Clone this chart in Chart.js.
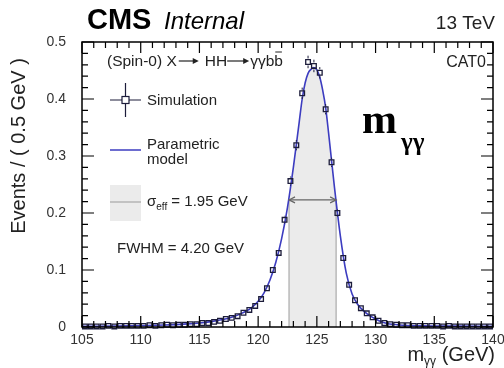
<!DOCTYPE html>
<html>
<head>
<meta charset="utf-8">
<script src="https://cdn.jsdelivr.net/npm/chart.js@4.4.0/dist/chart.umd.min.js"></script>
<style>
  body { margin: 0; background: #fff; }
  #wrap { width: 504px; height: 368px; }
</style>
</head>
<body>
<div id="wrap"><canvas id="massChart" width="504" height="368"></canvas></div>
<script>
// simulation histogram, 0.5 GeV bins
const binCenters = [
  105.25, 105.75, 106.25, 106.75, 107.25, 107.75, 108.25, 108.75, 109.25, 109.75,
  110.25, 110.75, 111.25, 111.75, 112.25, 112.75, 113.25, 113.75, 114.25, 114.75,
  115.25, 115.75, 116.25, 116.75, 117.25, 117.75, 118.25, 118.75, 119.25, 119.75,
  120.25, 120.75, 121.25, 121.75, 122.25, 122.75, 123.25, 123.75, 124.25, 124.75,
  125.25, 125.75, 126.25, 126.75, 127.25, 127.75, 128.25, 128.75, 129.25, 129.75,
  130.25, 130.75, 131.25, 131.75, 132.25, 132.75, 133.25, 133.75, 134.25, 134.75,
  135.25, 135.75, 136.25, 136.75, 137.25, 137.75, 138.25, 138.75, 139.25, 139.75
];
const simEvents = [
  0.001, 0.001, 0.001, 0.001, 0.002, 0.001, 0.002, 0.002, 0.002, 0.002,
  0.002, 0.003, 0.002, 0.003, 0.004, 0.003, 0.004, 0.004, 0.005, 0.005,
  0.007, 0.007, 0.009, 0.011, 0.014, 0.016, 0.019, 0.025, 0.030, 0.037,
  0.049, 0.068, 0.100, 0.130, 0.188, 0.256, 0.319, 0.410, 0.465, 0.458,
  0.446, 0.382, 0.289, 0.200, 0.121, 0.074, 0.047, 0.033, 0.024, 0.017,
  0.011, 0.007, 0.005, 0.004, 0.003, 0.003, 0.002, 0.002, 0.002, 0.002,
  0.002, 0.001, 0.002, 0.001, 0.001, 0.001, 0.001, 0.001, 0.001, 0.001
];
const simErrors = [
  0.001, 0.001, 0.001, 0.001, 0.001, 0.001, 0.001, 0.001, 0.001, 0.001,
  0.001, 0.001, 0.001, 0.001, 0.001, 0.001, 0.001, 0.001, 0.001, 0.001,
  0.001, 0.001, 0.002, 0.002, 0.002, 0.002, 0.002, 0.003, 0.003, 0.003,
  0.004, 0.004, 0.005, 0.006, 0.007, 0.008, 0.009, 0.010, 0.011, 0.011,
  0.010, 0.009, 0.008, 0.007, 0.005, 0.004, 0.004, 0.003, 0.003, 0.002,
  0.002, 0.002, 0.001, 0.001, 0.001, 0.001, 0.001, 0.001, 0.001, 0.001,
  0.001, 0.001, 0.001, 0.001, 0.001, 0.001, 0.001, 0.001, 0.001, 0.001
];

// parametric model
const modelMass = [
  105, 108, 110, 112, 114, 115, 116, 117, 118, 118.5, 119, 119.5, 120, 120.5,
  121, 121.5, 122, 122.5, 123, 123.5, 123.75, 124, 124.25, 124.5, 124.75, 125,
  125.25, 125.5, 125.75, 126, 126.5, 127, 127.5, 128, 128.5, 129, 129.5, 130,
  130.5, 131, 132, 134, 137, 140
];
const modelEvents = [
  0.0012, 0.0018, 0.0025, 0.0035, 0.0055, 0.007, 0.0095, 0.013, 0.019, 0.023, 0.028, 0.035, 0.045, 0.060,
  0.082, 0.113, 0.155, 0.210, 0.280, 0.360, 0.400, 0.428, 0.445, 0.452, 0.455, 0.451,
  0.438, 0.415, 0.385, 0.340, 0.245, 0.160, 0.095, 0.058, 0.039, 0.028, 0.020, 0.014,
  0.009, 0.006, 0.0035, 0.002, 0.0015, 0.0012
];

// sigma_eff window
const sigmaEffLow = 122.63;
const sigmaEffHigh = 126.64;
const sigmaEffLevel = 0.223;

const xMajorTicks = [105, 110, 115, 120, 125, 130, 135, 140];
const yMajorTicks = [0, 0.1, 0.2, 0.3, 0.4, 0.5];

const blue = "#3c3cc0";
const ink = "#1c1c3a";
const sans = "'Liberation Sans', Arial, sans-serif";

const toPoints = (xs, ys) => xs.map((v, i) => ({ x: v, y: ys[i] }));

const bandPoints = [{ x: sigmaEffLow, y: sigmaEffLevel }]
  .concat(toPoints(modelMass, modelEvents).filter(p => p.x > sigmaEffLow && p.x < sigmaEffHigh))
  .concat([{ x: sigmaEffHigh, y: sigmaEffLevel }]);

// long ROOT-style arrow used in the process label
function textArrow(ctx, x0, yMid, len) {
  ctx.beginPath();
  ctx.moveTo(x0, yMid); ctx.lineTo(x0 + len - 4, yMid);
  ctx.stroke();
  ctx.beginPath();
  ctx.moveTo(x0 + len, yMid); ctx.lineTo(x0 + len - 6, yMid - 3); ctx.lineTo(x0 + len - 6, yMid + 3);
  ctx.closePath();
  ctx.fill();
}

const rootStyle = {
  id: "rootStyle",
  afterDatasetsDraw(chart) {
    const { ctx, scales: { x, y } } = chart;
    ctx.save();
    // vertical error bars
    ctx.strokeStyle = ink;
    ctx.lineWidth = 1;
    binCenters.forEach((c, i) => {
      const px = x.getPixelForValue(c);
      const py = y.getPixelForValue(simEvents[i]);
      const up = y.getPixelForValue(simEvents[i] + simErrors[i]);
      const dn = y.getPixelForValue(Math.max(0, simEvents[i] - simErrors[i]));
      ctx.beginPath();
      if (py - up > 3.5) { ctx.moveTo(px, py - 3.5); ctx.lineTo(px, up); }
      if (dn - py > 3.5) { ctx.moveTo(px, py + 3.5); ctx.lineTo(px, dn); }
      ctx.stroke();
    });
    // arrow heads of the sigma_eff arrow
    const ay = y.getPixelForValue(sigmaEffLevel);
    const l = x.getPixelForValue(sigmaEffLow);
    const r = x.getPixelForValue(sigmaEffHigh);
    ctx.strokeStyle = "#666";
    ctx.lineWidth = 1.2;
    ctx.beginPath();
    ctx.moveTo(l + 6, ay - 3); ctx.lineTo(l, ay); ctx.lineTo(l + 6, ay + 3);
    ctx.moveTo(r - 6, ay - 3); ctx.lineTo(r, ay); ctx.lineTo(r - 6, ay + 3);
    ctx.stroke();
    ctx.restore();
  },
  afterDraw(chart) {
    const { ctx, chartArea: a, scales: { x, y } } = chart;
    ctx.save();
    // frame
    ctx.strokeStyle = "#000";
    ctx.lineWidth = 1.5;
    ctx.strokeRect(a.left, a.top, a.right - a.left, a.bottom - a.top);
    // inward ticks, all four sides
    ctx.lineWidth = 1.2;
    ctx.beginPath();
    for (let m = 105; m <= 140; m++) {
      const px = x.getPixelForValue(m);
      const len = m % 5 === 0 ? 11 : 6;
      ctx.moveTo(px, a.bottom); ctx.lineTo(px, a.bottom - len);
      ctx.moveTo(px, a.top); ctx.lineTo(px, a.top + len);
    }
    for (let k = 0; k <= 25; k++) {
      const py = y.getPixelForValue(k * 0.02);
      const len = k % 5 === 0 ? 12 : 6;
      ctx.moveTo(a.left, py); ctx.lineTo(a.left + len, py);
      ctx.moveTo(a.right, py); ctx.lineTo(a.right - len, py);
    }
    ctx.stroke();

    // header
    ctx.fillStyle = "#000";
    ctx.textBaseline = "alphabetic";
    ctx.font = "bold 29px " + sans;
    ctx.fillText("CMS", 87, 29);
    ctx.font = "italic 24px " + sans;
    ctx.fillText("Internal", 164, 29);
    ctx.textAlign = "right";
    ctx.font = "19px " + sans;
    ctx.fillStyle = "#222";
    ctx.fillText("13 TeV", 495, 29);

    // process label and category
    ctx.font = "16px " + sans;
    ctx.fillText("CAT0", 486, 67);
    ctx.textAlign = "left";
    ctx.font = "15.5px " + sans;
    ctx.strokeStyle = "#222";
    ctx.lineWidth = 1.2;
    let cx = 107;
    ctx.fillText("(Spin-0) X", cx, 66);
    cx += ctx.measureText("(Spin-0) X").width + 2;
    textArrow(ctx, cx, 61, 20);
    cx += 26;
    ctx.fillText("HH", cx, 66);
    cx += ctx.measureText("HH").width;
    textArrow(ctx, cx, 61, 22);
    cx += 23;
    ctx.fillText("\u03b3\u03b3bb", cx, 66);
    const pw = ctx.measureText("\u03b3\u03b3bb").width;
    const bw = ctx.measureText("b").width;
    ctx.lineWidth = 1;
    ctx.beginPath();
    ctx.moveTo(cx + pw - bw + 1, 52); ctx.lineTo(cx + pw - 1, 52);
    ctx.stroke();

    // legend
    ctx.strokeStyle = ink;
    ctx.lineWidth = 1.2;
    ctx.beginPath();
    ctx.moveTo(110, 100); ctx.lineTo(122, 100);
    ctx.moveTo(129, 100); ctx.lineTo(141, 100);
    ctx.moveTo(125.5, 83); ctx.lineTo(125.5, 96);
    ctx.moveTo(125.5, 104); ctx.lineTo(125.5, 117);
    ctx.stroke();
    ctx.strokeRect(122, 96.5, 7, 7);
    ctx.strokeStyle = blue;
    ctx.lineWidth = 1.5;
    ctx.beginPath();
    ctx.moveTo(110, 150); ctx.lineTo(141, 150);
    ctx.stroke();
    ctx.fillStyle = "#ebebeb";
    ctx.fillRect(110, 185, 31, 36);
    ctx.strokeStyle = "#999";
    ctx.lineWidth = 1;
    ctx.beginPath();
    ctx.moveTo(110, 202); ctx.lineTo(141, 202);
    ctx.stroke();

    ctx.fillStyle = "#222";
    ctx.textBaseline = "middle";
    ctx.font = "15px " + sans;
    ctx.fillText("Simulation", 147, 101);
    ctx.fillText("Parametric", 147, 145);
    ctx.fillText("model", 147, 160);
    ctx.fillText("\u03c3", 147, 202);
    const sw = ctx.measureText("\u03c3").width;
    ctx.font = "10px " + sans;
    ctx.fillText("eff", 147 + sw, 207);
    const ew = ctx.measureText("eff").width;
    ctx.font = "15px " + sans;
    ctx.fillText(" = 1.95 GeV", 147 + sw + ew, 202);
    ctx.fillText("FWHM = 4.20 GeV", 117, 249);

    // big m_gammagamma label
    ctx.fillStyle = "#000";
    ctx.textBaseline = "alphabetic";
    ctx.font = "bold 42px 'Liberation Serif', 'Times New Roman', serif";
    ctx.fillText("m", 362, 133);
    ctx.font = "bold 25px 'Liberation Serif', 'Times New Roman', serif";
    ctx.fillText("\u03b3\u03b3", 401, 150);

    // axis titles
    ctx.fillStyle = "#222";
    ctx.font = "20px " + sans;
    ctx.textAlign = "right";
    ctx.fillText(" (GeV)", 495, 361);
    const gw = ctx.measureText(" (GeV)").width;
    ctx.font = "12px " + sans;
    ctx.fillText("\u03b3\u03b3", 495 - gw, 365);
    const yw = ctx.measureText("\u03b3\u03b3").width;
    ctx.font = "20px " + sans;
    ctx.fillText("m", 495 - gw - yw, 361);

    ctx.translate(25, 146);
    ctx.rotate(-Math.PI / 2);
    ctx.textAlign = "center";
    ctx.font = "20px " + sans;
    ctx.fillText("Events / ( 0.5 GeV )", 0, 0);
    ctx.restore();
  }
};

new Chart(document.getElementById("massChart"), {
  type: "line",
  data: {
    datasets: [
      {
        label: "Simulation",
        data: toPoints(binCenters, simEvents),
        showLine: false,
        pointStyle: "rect",
        pointRadius: 3.3,
        pointBorderWidth: 1.3,
        pointBorderColor: ink,
        pointBackgroundColor: "rgba(255,255,255,0)",
        clip: false,
      },
      {
        label: "Parametric model",
        data: toPoints(modelMass, modelEvents),
        borderColor: blue,
        borderWidth: 1.6,
        pointRadius: 0,
        cubicInterpolationMode: "monotone",
      },
      {
        label: "sigma_eff arrow",
        data: [{ x: sigmaEffLow, y: sigmaEffLevel }, { x: sigmaEffHigh, y: sigmaEffLevel }],
        borderColor: "#666",
        borderWidth: 1.2,
        pointRadius: 0,
      },
      {
        label: "low edge",
        data: [{ x: sigmaEffLow, y: 0 }, { x: sigmaEffLow, y: sigmaEffLevel }],
        borderColor: "#aaa",
        borderWidth: 1.2,
        pointRadius: 0,
      },
      {
        label: "high edge",
        data: [{ x: sigmaEffHigh, y: 0 }, { x: sigmaEffHigh, y: sigmaEffLevel }],
        borderColor: "#aaa",
        borderWidth: 1.2,
        pointRadius: 0,
      },
      {
        label: "sigma_eff band",
        data: bandPoints,
        borderWidth: 0,
        pointRadius: 0,
        fill: "origin",
        backgroundColor: "#ebebeb",
        cubicInterpolationMode: "monotone",
      },
    ],
  },
  options: {
    responsive: false,
    animation: false,
    layout: { padding: { top: 42, right: 11, left: 0, bottom: 0 } },
    plugins: { legend: { display: false }, tooltip: { enabled: false } },
    scales: {
      x: {
        type: "linear",
        min: 105,
        max: 140,
        afterFit: (s) => { s.height = 41; },
        grid: { display: false },
        border: { display: false },
        ticks: {
          stepSize: 5,
          padding: -3,
          maxRotation: 0,
          color: "#333",
          font: { size: 14, family: sans },
          callback: (v) => (xMajorTicks.includes(v) ? String(v) : ""),
        },
      },
      y: {
        min: 0,
        max: 0.5,
        afterFit: (s) => { s.width = 82; },
        grid: { display: false },
        border: { display: false },
        ticks: {
          stepSize: 0.1,
          padding: 8,
          color: "#333",
          font: { size: 14, family: sans },
          callback: (v) => {
            const t = yMajorTicks.find((m) => Math.abs(m - v) < 1e-6);
            return t === 0 ? "0" : t.toFixed(1);
          },
        },
      },
    },
  },
  plugins: [rootStyle],
});
</script>
</body>
</html>
